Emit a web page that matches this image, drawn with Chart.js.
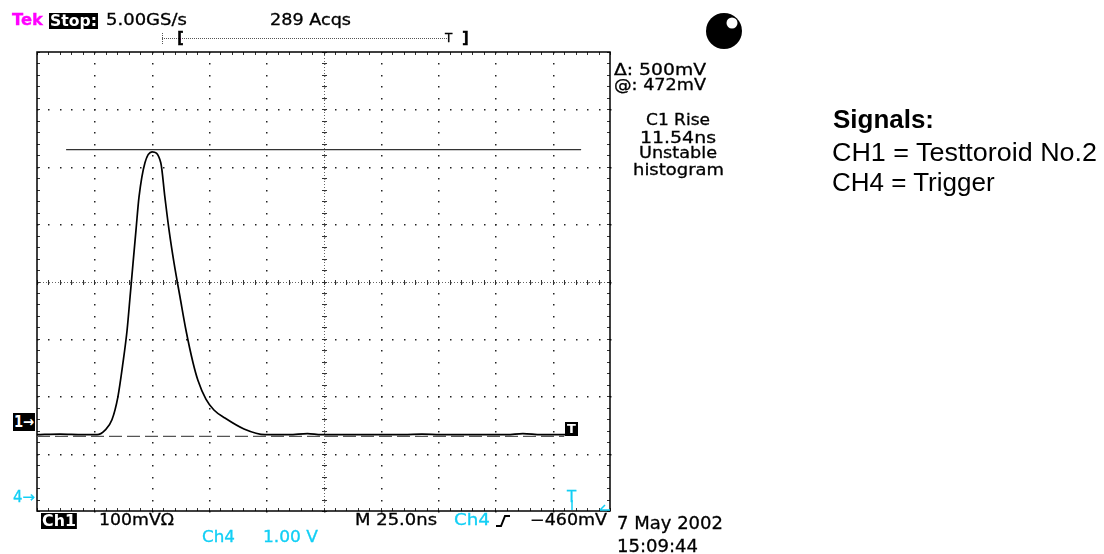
<!DOCTYPE html>
<html>
<head>
<meta charset="utf-8">
<script src="https://cdn.jsdelivr.net/npm/chart.js@4"></script>
<style>
  body { margin: 0; background: #fff; }
  #wrap { position: relative; width: 1104px; height: 554px; overflow: hidden; }
  canvas { position: absolute; left: 0; top: 0; }
  .t { position: absolute; font-family: "DejaVu Sans", sans-serif; font-size: 15px; line-height: 17px; white-space: pre; color: #000; transform-origin: 0 0; -webkit-text-stroke: 0.3px currentColor; }
  .inv { background: #000; color: #fff; font-weight: bold; line-height: 16px; padding: 0 1px; -webkit-text-stroke: 0; }
  .cy { color: #12cff5; }
  .big { font-size: 17px; line-height: 20px; }
  .sig { position: absolute; font-family: "Liberation Sans", Arial, sans-serif; font-size: 26px; line-height: 30px; white-space: pre; transform-origin: 0 0; }
</style>
</head>
<body>
<div id="wrap">
  <canvas id="scope" width="1104" height="554"></canvas>

  <div class="t" style="left:12px;top:12px;color:#ff00ff;font-weight:bold;" data-w="31">Tek</div>
  <div class="t inv" style="left:49px;top:13px;" data-w="49">Stop:</div>
  <div class="t" style="left:106px;top:12px;" data-w="81">5.00GS/s</div>
  <div class="t" style="left:270px;top:12px;" data-w="81">289 Acqs</div>
  <div class="t" style="left:177px;top:30px;font-weight:bold;">[</div>
  <div class="t" style="left:445px;top:30px;font-size:12px;">T</div>
  <div class="t" style="left:462px;top:30px;font-weight:bold;">]</div>

  <div class="t" style="left:614px;top:62px;" data-w="92">&#916;: 500mV</div>
  <div class="t" style="left:614px;top:77px;" data-w="92">@: 472mV</div>
  <div class="t" style="left:646px;top:112px;" data-w="64">C1 Rise</div>
  <div class="t" style="left:640px;top:130px;" data-w="76">11.54ns</div>
  <div class="t" style="left:639px;top:145px;" data-w="78">Unstable</div>
  <div class="t" style="left:633px;top:162px;" data-w="91">histogram</div>

  <div class="sig" style="left:833px;top:104px;font-weight:bold;" data-w="101">Signals:</div>
  <div class="sig" style="left:832px;top:137px;" data-w="265">CH1 = Testtoroid No.2</div>
  <div class="sig" style="left:832px;top:167px;">CH4 = Trigger</div>

  <div class="t inv" style="left:13px;top:413px;line-height:18px;" data-w="22">1&#8594;</div>
  <div class="t cy" style="left:13px;top:489px;" data-w="22">4&#8594;</div>
  <div class="t inv" style="left:565px;top:422px;width:11px;height:14px;font-size:13px;line-height:14px;text-align:center;">T</div>
  <div class="t cy" style="left:567px;top:489px;">T</div>

  <div class="t inv" style="left:41px;top:513px;" data-w="36">Ch1</div>
  <div class="t" style="left:99px;top:512px;" data-w="75">100mV&#937;</div>
  <div class="t" style="left:355px;top:512px;" data-w="82">M 25.0ns</div>
  <div class="t cy" style="left:454px;top:512px;" data-w="36">Ch4</div>
  <div class="t" style="left:530px;top:512px;" data-w="77">&#8722;460mV</div>
  <div class="t cy" style="left:202px;top:529px;" data-w="33">Ch4</div>
  <div class="t cy" style="left:263px;top:529px;" data-w="55">1.00 V</div>
  <div class="t big" style="left:617px;top:513px;" data-w="106">7 May 2002</div>
  <div class="t big" style="left:617px;top:536px;" data-w="81">15:09:44</div>
</div>

<script>
// CH1 trace (time in ns, level in mV from screen centre)
const timeNs = [0, 10, 20, 26.2, 29.7, 32.7, 35.3, 37.5, 39.3, 40.6, 41.9, 43.2, 44.5, 47.1, 50.2,
  54.0, 55.8, 57.6, 59.8, 62.4, 65.0, 68.1, 70.2, 73.7, 77.2, 82.0, 90.3, 99.5, 110, 118, 124,
  160, 168, 176, 205, 212, 220, 231];
const ch1mV = [-267, -266, -267, -267, -259, -241, -201, -142, -85, -27, 32, 90, 147, 207, 226,
  207, 147, 90, 32, -27, -85, -142, -172, -205, -224, -238, -257, -267, -267, -265, -267,
  -267, -266, -267, -267, -265, -267, -267];

// horizontal cursors (mV) and their extent (ns)
const cursorTopMv = 230;
const cursorBottomMv = -270;
const cursorTopSpan = [12.7, 237.4];
const cursorBottomSpan = [0, 230];

// screen: 10 x 8 divisions, 25 ns/div, 100 mV/div
const xTicksNs = [0, 25, 50, 75, 100, 125, 150, 175, 200, 225, 250];
const yTicksMv = [-400, -300, -200, -100, 0, 100, 200, 300, 400];

// stretch the screen-font labels to the widths seen on the scope
document.querySelectorAll('[data-w]').forEach(el => {
  const w = el.getBoundingClientRect().width;
  el.style.transform = 'scaleX(' + (Number(el.dataset.w) / w) + ')';
});

// graticule drawn with the chart's own scales
const graticule = {
  id: 'graticule',
  beforeDatasetsDraw(chart) {
    const c = chart.ctx, xs = chart.scales.x, ys = chart.scales.y;
    const x0 = xs.getPixelForValue(xTicksNs[0]), x1 = xs.getPixelForValue(xTicksNs[xTicksNs.length - 1]);
    const y0 = ys.getPixelForValue(yTicksMv[yTicksMv.length - 1]), y1 = ys.getPixelForValue(yTicksMv[0]);
    const xm = xs.getPixelForValue(125), ym = ys.getPixelForValue(0);
    c.save();
    c.fillStyle = '#222';
    const dot = (x, y) => c.fillRect(Math.round(x), Math.round(y), 1.5, 1.5);
    // minor positions every 1/5 division
    const xMinor = [], yMinor = [];
    for (let v = 0; v <= 250; v += 5) xMinor.push(xs.getPixelForValue(v));
    for (let v = -400; v <= 400; v += 20) yMinor.push(ys.getPixelForValue(v));
    xTicksNs.slice(1, -1).forEach(v => {
      const x = xs.getPixelForValue(v);
      yMinor.forEach(y => dot(x, y));
    });
    yTicksMv.slice(1, -1).forEach(v => {
      const y = ys.getPixelForValue(v);
      xMinor.forEach(x => dot(x, y));
    });
    // centre lines: fine dotted with small ticks
    c.fillStyle = '#666';
    for (let y = y0; y <= y1; y += 3) c.fillRect(Math.round(xm), Math.round(y), 1, 1);
    for (let x = x0; x <= x1; x += 3) c.fillRect(Math.round(x), Math.round(ym), 1, 1);
    c.fillStyle = '#333';
    yMinor.forEach(y => c.fillRect(Math.round(xm) - 2, Math.round(y), 5, 1));
    xMinor.forEach(x => c.fillRect(Math.round(x), Math.round(ym) - 2, 1, 5));
    // border ticks
    xMinor.forEach(x => {
      c.fillRect(Math.round(x), Math.round(y0), 1, 3);
      c.fillRect(Math.round(x), Math.round(y1) - 3, 1, 3);
    });
    yMinor.forEach(y => {
      c.fillRect(Math.round(x0), Math.round(y), 3, 1);
      c.fillRect(Math.round(x1) - 3, Math.round(y), 3, 1);
    });
    // border
    c.strokeStyle = '#000';
    c.lineWidth = 1.5;
    c.strokeRect(x0, y0, x1 - x0, y1 - y0);
    c.restore();
  },
  afterDraw(chart) {
    const c = chart.ctx;
    c.save();
    // record length bar
    c.fillStyle = '#555';
    for (let x = 162; x <= 448; x += 2) c.fillRect(x, 38, 1, 1);
    for (let y = 33; y <= 44; y += 2) c.fillRect(162, y, 1, 1);
    c.fillStyle = '#ff00ff';
    c.fillRect(179, 38, 2, 2);
    // mark ball
    c.fillStyle = '#000';
    c.beginPath(); c.arc(724, 31, 18, 0, Math.PI * 2); c.fill();
    c.fillStyle = '#fff';
    c.beginPath(); c.arc(732, 23, 5.5, 0, Math.PI * 2); c.fill();
    // trigger slope glyph
    c.strokeStyle = '#000';
    c.lineWidth = 2;
    c.beginPath(); c.moveTo(496, 526); c.lineTo(501, 526); c.lineTo(505, 516); c.lineTo(510, 516); c.stroke();
    // cyan trigger marks
    c.strokeStyle = '#12cff5';
    c.lineWidth = 1.5;
    c.beginPath(); c.moveTo(572, 500); c.lineTo(572, 510); c.stroke();
    c.beginPath(); c.moveTo(610, 510); c.lineTo(600, 510); c.moveTo(605, 505); c.lineTo(600, 510); c.stroke();
    c.restore();
  }
};

new Chart(document.getElementById('scope'), {
  type: 'line',
  data: {
    datasets: [
      {
        label: 'CH1',
        data: timeNs.map((t, i) => ({ x: t, y: ch1mV[i] })),
        borderColor: '#000',
        borderWidth: 1.7,
        pointRadius: 0,
        cubicInterpolationMode: 'monotone',
        order: 0
      },
      {
        label: 'cursor top',
        data: cursorTopSpan.map(t => ({ x: t, y: cursorTopMv })),
        borderColor: '#333',
        borderWidth: 1.2,
        pointRadius: 0,
        order: 1
      },
      {
        label: 'cursor bottom',
        data: cursorBottomSpan.map(t => ({ x: t, y: cursorBottomMv })),
        borderColor: '#555',
        borderWidth: 1.3,
        borderDash: [13, 5],
        pointRadius: 0,
        order: 1
      }
    ]
  },
  options: {
    responsive: false,
    animation: false,
    layout: { padding: { left: 37, right: 494, top: 52, bottom: 43 } },
    plugins: { legend: { display: false }, tooltip: { enabled: false } },
    scales: {
      x: { type: 'linear', min: 0, max: 250, display: false },
      y: { type: 'linear', min: -400, max: 400, display: false }
    }
  },
  plugins: [graticule]
});
</script>
</body>
</html>
